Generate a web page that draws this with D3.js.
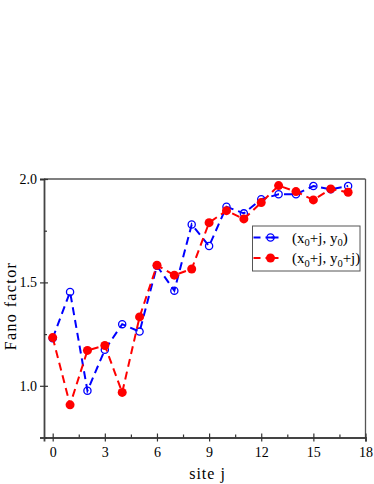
<!DOCTYPE html>
<html>
<head>
<meta charset="utf-8">
<script src="https://cdn.jsdelivr.net/npm/d3@7"></script>
<style>
  body { margin: 0; background: #fff; }
  svg text { font-family: "Liberation Serif", "Times New Roman", serif; }
</style>
</head>
<body>
<svg id="chart"></svg>
<script>
// data
var sites = [0, 1, 2, 3, 4, 5, 6, 7, 8, 9, 10, 11, 12, 13, 14, 15, 16, 17];
var fanoA = [1.23, 1.454, 0.976, 1.174, 1.298, 1.262, 1.58, 1.46, 1.78, 1.676, 1.866, 1.834, 1.902, 1.926, 1.926, 1.966, 1.95, 1.966];
var fanoB = [1.233, 0.908, 1.171, 1.195, 0.968, 1.333, 1.583, 1.535, 1.565, 1.789, 1.847, 1.807, 1.886, 1.968, 1.939, 1.899, 1.952, 1.936];
var xTicks = [0, 3, 6, 9, 12, 15, 18];
var xMinor = [1.5, 4.5, 7.5, 10.5, 13.5, 16.5];
var yTicks = [1.0, 1.5, 2.0];
var yMinor = [0.75, 1.25, 1.75];

var W = 374, H = 484;
var margin = {top: 179, right: 8.5, bottom: 46.5, left: 44};
var w = W - margin.left - margin.right,
    h = H - margin.top - margin.bottom;

var svg = d3.select("#chart").attr("width", W).attr("height", H);
var g = svg.append("g").attr("transform", "translate(" + margin.left + "," + margin.top + ")");

var x = d3.scaleLinear().domain([-0.5, 18]).range([0, w]);
var y = d3.scaleLinear().domain([0.75, 2.0]).range([h, 0]);

// frame top/right
g.append("line").attr("x1", 0).attr("x2", w).attr("y1", 0).attr("y2", 0)
  .attr("stroke", "#555").attr("stroke-width", 1.3);
g.append("line").attr("x1", w).attr("x2", w).attr("y1", 0).attr("y2", h)
  .attr("stroke", "#555").attr("stroke-width", 1.3);

// x axis
var xAxis = g.append("g").attr("transform", "translate(0," + h + ")")
  .call(d3.axisBottom(x).tickValues(xTicks).tickFormat(d3.format("d")).tickSize(4).tickPadding(6));
xAxis.selectAll(".tick line").attr("y1", -4);
var xMin = g.append("g").attr("transform", "translate(0," + h + ")")
  .call(d3.axisBottom(x).tickValues(xMinor).tickFormat("").tickSize(-3));
xMin.select(".domain").remove();

// y axis
var yAxis = g.append("g")
  .call(d3.axisLeft(y).tickValues(yTicks).tickFormat(d3.format(".1f")).tickSize(4).tickPadding(3));
yAxis.selectAll(".tick line").attr("x1", 4);
var yMin = g.append("g")
  .call(d3.axisLeft(y).tickValues(yMinor).tickFormat("").tickSize(-3));
yMin.select(".domain").remove();

g.selectAll(".domain").attr("stroke", "#444").attr("stroke-width", 1.8);
g.selectAll(".tick line").attr("stroke", "#333").attr("stroke-width", 1.2);
g.selectAll(".tick text").attr("font-size", 14).attr("fill", "#000")
  .style("font-family", "'Liberation Serif', serif");

// axis titles
svg.append("text").attr("x", 207.5).attr("y", 478.5).attr("text-anchor", "middle")
  .attr("font-size", 16).attr("letter-spacing", 1).text("site j");
svg.append("text").attr("transform", "translate(16,306) rotate(-90)")
  .attr("text-anchor", "middle").attr("font-size", 16).attr("letter-spacing", 1.4)
  .text("Fano factor");

var line = d3.line().x(function(d) { return x(d[0]); }).y(function(d) { return y(d[1]); });
var ptsA = sites.map(function(s, i) { return [s, fanoA[i]]; });
var ptsB = sites.map(function(s, i) { return [s, fanoB[i]]; });

function series(pts, color, filled) {
  g.append("path").datum(pts).attr("d", line)
    .attr("fill", "none").attr("stroke", color).attr("stroke-width", 2)
    .attr("stroke-dasharray", "8,5");
  g.selectAll(null).data(pts).enter().append("circle")
    .attr("cx", function(d) { return x(d[0]); })
    .attr("cy", function(d) { return y(d[1]); })
    .attr("r", filled ? 4.5 : 3.6)
    .attr("fill", filled ? color : "none")
    .attr("stroke", color).attr("stroke-width", filled ? 0 : 1.3);
}
series(ptsA, "#0000ff", false);
series(ptsB, "#ff0000", true);

// legend
var lg = svg.append("g").attr("transform", "translate(252.5,226)");
lg.append("rect").attr("width", 107.5).attr("height", 45)
  .attr("fill", "#fff").attr("stroke", "#555").attr("stroke-width", 1);
var items = [
  {color: "#0000ff", filled: false, y: 11.5, label: ["(x", "0", "+j, y", "0", ")"]},
  {color: "#ff0000", filled: true, y: 32, label: ["(x", "0", "+j, y", "0", "+j)"]}
];
items.forEach(function(it) {
  lg.append("line").attr("x1", 1).attr("x2", 33).attr("y1", it.y).attr("y2", it.y)
    .attr("stroke", it.color).attr("stroke-width", 2).attr("stroke-dasharray", "7,5.5,0,5.5,7");
  lg.append("line").attr("x1", 13).attr("x2", 22).attr("y1", it.y).attr("y2", it.y)
    .attr("stroke", it.color).attr("stroke-width", 2);
  lg.append("circle").attr("cx", 18).attr("cy", it.y).attr("r", it.filled ? 4.5 : 3.6)
    .attr("fill", it.filled ? it.color : "none").attr("stroke", it.color)
    .attr("stroke-width", it.filled ? 0 : 1.3);
  var t = lg.append("text").attr("x", 39.5).attr("y", it.y + 5).attr("font-size", 15);
  it.label.forEach(function(part, k) {
    var ts = t.append("tspan").text(part);
    if (k % 2 === 1) ts.attr("font-size", 10.5).attr("dy", 3.5);
    else if (k > 0) ts.attr("dy", -3.5);
  });
});
</script>
</body>
</html>
